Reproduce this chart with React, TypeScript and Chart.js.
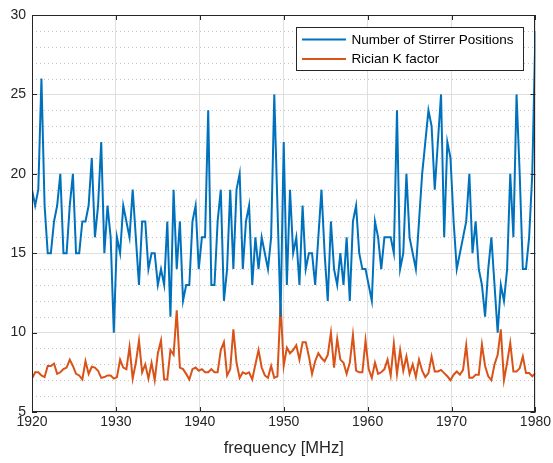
import React, { useEffect, useRef } from "react";
import { Chart, registerables } from "chart.js";

Chart.register(...registerables);

// frequency grid (MHz)
const FREQ_START = 1920;
const FREQ_STEP = 0.375;

const stirrerPositions = [
  19, 18, 19, 26, 18, 15, 15, 17, 18, 20, 15, 15, 18, 20, 15, 15, 17, 17, 18, 21, 16, 18, 22,
  15, 18, 16, 10, 16, 15, 18, 17, 16, 19, 16, 13, 17, 17, 14, 15, 15, 13, 14, 13, 17, 11, 19,
  14, 17, 12, 13, 13, 17, 18, 14, 16, 16, 24, 13, 13, 17, 19, 12, 14, 19, 14, 19, 20, 14,
  17, 18, 13, 16, 14, 16, 15, 14, 16, 25, 18, 11, 22, 13, 19, 15, 16, 13, 18, 14, 15, 15, 13,
  16, 19, 15, 12, 17, 14, 13, 15, 13, 16, 12, 17, 18, 15, 14, 14, 13, 12, 17, 16, 14, 16, 16,
  16, 15, 24, 14, 15, 20, 16, 15, 14, 17, 20, 22,
  24, 23, 19, 22, 25, 16, 22, 21, 17, 14, 15, 16, 17, 20, 15, 17, 14, 13, 11, 14, 16, 13, 10,
  13, 12, 14, 20, 16, 25, 20, 14, 14, 16, 20, 29,
];

const ricianK = [
  7.1, 7.5, 7.5, 7.3, 7.2, 7.9, 7.9, 8.05, 7.4, 7.5, 7.7, 7.8, 8.3, 7.9, 7.4, 7.3, 7.05, 8.2, 7.4, 7.85, 7.8, 7.6, 7.15,
  7.2, 7.3, 7.3, 7.1, 7.2, 8.3, 7.8, 7.7, 9.1, 7.1, 8.1, 9.5, 7.5, 8.0, 7.1, 8.1, 7.0, 8.7, 9.5, 7.05, 7.05, 8.9, 8.6,
  11.4, 7.8, 7.7, 7.4, 7.05, 7.7, 7.8, 7.6, 7.7, 7.5, 7.5, 7.7, 7.5, 7.5, 8.9, 9.4, 7.3, 7.7, 10.2, 8.1, 7.15, 7.5,
  7.4, 7.5, 7.05, 8.0, 8.9, 7.8, 7.3, 7.15, 7.9, 7.15, 7.25, 11.8, 7.9, 9.05, 8.7, 8.9, 9.2, 8.3, 9.4, 9.4, 8.5, 7.4, 8.2,
  8.7, 8.4, 8.2, 8.6, 10.0, 7.8, 9.6, 8.3, 8.1, 7.4, 8.1, 9.85, 7.6, 7.5, 7.5, 9.5, 7.7, 7.15, 8.1, 7.4, 7.5, 7.7, 8.3,
  7.3, 9.3, 7.4, 8.9, 7.6, 8.5, 7.4, 8.0, 7.2, 8.3, 7.6, 7.2,
  7.45, 8.5, 7.55, 7.55, 7.65, 7.45, 7.25, 7.0, 7.35, 7.55, 7.35, 7.65, 9.2, 7.15, 7.15, 7.35, 7.35, 9.25, 7.9, 7.25,
  7.0, 8.0, 8.6, 10.2, 7.0, 8.1, 9.35, 7.55, 7.55, 7.75, 8.5, 7.45, 7.45, 7.25, 7.45,
];

const seriesLabels = ["Number of Stirrer Positions", "Rician K factor"];
const seriesColors = ["#0072BD", "#D95319"];
const xAxisLabel = "frequency [MHz]";
const xRange = [1920, 1980];
const yRange = [5, 30];
const xTickStep = 10;
const yTickStep = 5;

const frequencies = stirrerPositions.map((_, i) => FREQ_START + i * FREQ_STEP);

const FONT = "'Liberation Sans', Arial, Helvetica, sans-serif";
const AXIS_COLOR = "#262626";

const matlabPlugin = {
  id: "matlabAxes",
  beforeDatasetsDraw(chart: any) {
    const { ctx, chartArea } = chart;
    const { left, right } = chartArea;
    const y = chart.scales.y;
    ctx.save();
    ctx.strokeStyle = "#c4c4c4";
    ctx.lineWidth = 1;
    ctx.setLineDash([1, 3]);
    for (let v = Math.ceil(y.min); v <= y.max; v++) {
      if (v % yTickStep === 0) continue;
      const py = Math.round(y.getPixelForValue(v)) + 0.5;
      ctx.beginPath();
      ctx.moveTo(left, py);
      ctx.lineTo(right, py);
      ctx.stroke();
    }
    ctx.restore();
  },
  afterDatasetsDraw(chart: any) {
    const { ctx, chartArea } = chart;
    const { left, right, top, bottom } = chartArea;
    const x = chart.scales.x;
    const y = chart.scales.y;
    const tl = 5;
    ctx.save();
    ctx.strokeStyle = AXIS_COLOR;
    ctx.lineWidth = 1;
    ctx.setLineDash([]);
    ctx.beginPath();
    x.ticks.forEach((t: any) => {
      const px = Math.round(x.getPixelForValue(t.value)) + 0.5;
      ctx.moveTo(px, bottom);
      ctx.lineTo(px, bottom - tl);
      ctx.moveTo(px, top);
      ctx.lineTo(px, top + tl);
    });
    y.ticks.forEach((t: any) => {
      const py = Math.round(y.getPixelForValue(t.value)) + 0.5;
      ctx.moveTo(left, py);
      ctx.lineTo(left + tl, py);
      ctx.moveTo(right, py);
      ctx.lineTo(right - tl, py);
    });
    ctx.stroke();
    ctx.strokeRect(Math.round(left) + 0.5, Math.round(top) + 0.5, Math.round(right - left) - 1, Math.round(bottom - top) - 1);
    ctx.restore();
  },
  afterDraw(chart: any) {
    const { ctx, chartArea } = chart;
    ctx.save();
    // x-axis label
    ctx.fillStyle = AXIS_COLOR;
    ctx.font = `16.5px ${FONT}`;
    ctx.textAlign = "center";
    ctx.textBaseline = "middle";
    ctx.fillText(xAxisLabel, (chartArea.left + chartArea.right) / 2, 448);

    // legend
    const lx = 296.5, ly = 27.5, lw = 227, lh = 43;
    ctx.fillStyle = "#ffffff";
    ctx.fillRect(lx, ly, lw, lh);
    ctx.strokeStyle = AXIS_COLOR;
    ctx.lineWidth = 1;
    ctx.strokeRect(lx, ly, lw, lh);
    const rows = [39.5, 59];
    ctx.font = `13.5px ${FONT}`;
    ctx.textAlign = "left";
    ctx.textBaseline = "middle";
    seriesLabels.forEach((lab, i) => {
      ctx.strokeStyle = seriesColors[i];
      ctx.lineWidth = 2;
      ctx.beginPath();
      ctx.moveTo(302, rows[i]);
      ctx.lineTo(346, rows[i]);
      ctx.stroke();
      ctx.fillStyle = "#000000";
      ctx.fillText(lab, 351.5, rows[i] + 0.5);
    });
    ctx.restore();
  },
};

export default function App() {
  const ref = useRef<HTMLCanvasElement | null>(null);
  useEffect(() => {
    document.body.style.margin = "0";
    if (!ref.current) return;
    const chart = new Chart(ref.current, {
      type: "line",
      data: {
        datasets: [
          {
            label: seriesLabels[0],
            data: frequencies.map((f, i) => ({ x: f, y: stirrerPositions[i] })),
            borderColor: seriesColors[0],
            borderWidth: 2,
            pointRadius: 0,
            tension: 0,
            fill: false,
          },
          {
            label: seriesLabels[1],
            data: frequencies.map((f, i) => ({ x: f, y: ricianK[i] })),
            borderColor: seriesColors[1],
            borderWidth: 2,
            pointRadius: 0,
            tension: 0,
            fill: false,
          },
        ],
      },
      options: {
        animation: false,
        responsive: false,
        devicePixelRatio: 1,
        layout: { padding: { top: 15, right: 17, left: 0, bottom: 0 } },
        plugins: { legend: { display: false }, tooltip: { enabled: false } },
        scales: {
          x: {
            type: "linear",
            min: xRange[0],
            max: xRange[1],
            afterFit: (s: any) => { s.height = 51; },
            ticks: {
              stepSize: xTickStep,
              padding: 2,
              color: AXIS_COLOR,
              font: { family: FONT, size: 14 },
              maxRotation: 0,
              callback: (v: any) => String(v),
            },
            grid: { color: "#dfdfdf", lineWidth: 1, drawTicks: false },
            border: { display: false },
          },
          y: {
            type: "linear",
            min: yRange[0],
            max: yRange[1],
            afterFit: (s: any) => { s.width = 32; },
            ticks: {
              stepSize: yTickStep,
              padding: 6,
              color: AXIS_COLOR,
              font: { family: FONT, size: 14 },
              callback: (v: any) => String(v),
            },
            grid: { color: "#dfdfdf", lineWidth: 1, drawTicks: false },
            border: { display: false },
          },
        },
      },
      plugins: [matlabPlugin],
    });
    return () => chart.destroy();
  }, []);
  return (
    <div style={{ width: 553, height: 463 }}>
      <canvas ref={ref} width={553} height={463} />
    </div>
  );
}
